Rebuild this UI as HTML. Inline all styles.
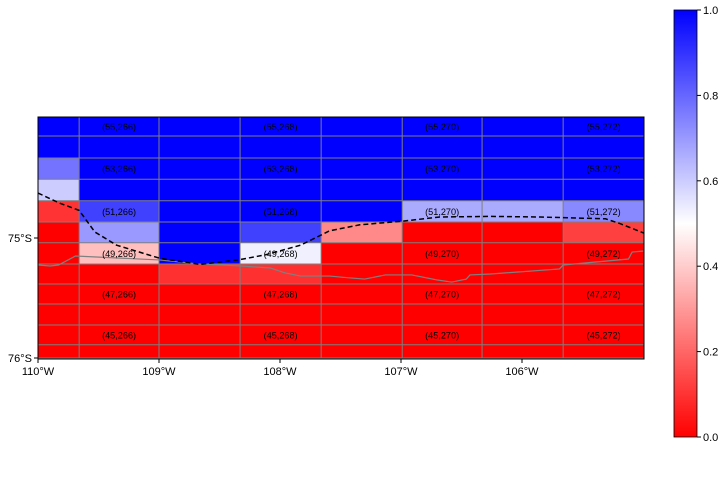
<!DOCTYPE html>
<html><head><meta charset="utf-8"><style>
html,body{margin:0;padding:0;background:#fff;}
svg{display:block;font-family:"Liberation Sans",sans-serif;}
</style></head><body>
<svg id="chart" width="726" height="478" viewBox="0 0 726 478" xmlns="http://www.w3.org/2000/svg">
<defs>
<linearGradient id="bwr" x1="0" y1="1" x2="0" y2="0">
<stop offset="0" stop-color="#ff0000"/><stop offset="0.5" stop-color="#ffffff"/><stop offset="1" stop-color="#0000ff"/>
</linearGradient>
<clipPath id="plotclip"><rect x="38" y="117" width="606" height="242"/></clipPath>
</defs>
<g id="cells" clip-path="url(#plotclip)"></g>
<g id="grid" clip-path="url(#plotclip)"></g>
<g id="lines" clip-path="url(#plotclip)"></g>
<g id="labels"></g>
<rect x="38" y="117" width="606" height="242" fill="none" stroke="#000" stroke-width="1"/>
<g id="axes"></g>
<rect x="674" y="10" width="23" height="427" fill="url(#bwr)" stroke="#000" stroke-width="0.8"/>
<g id="cbticks"></g>
</svg>
<script>
const lonEdges = [-110, -109.66, -109, -108.33, -107.66, -106.99, -106.33, -105.66, -104.99];
const latEdges = [-73.99, -74.15, -74.333, -74.51, -74.69, -74.867, -75.04, -75.217, -75.383, -75.55, -75.725, -75.89, -76.0];
const cellValues = [
 [1,1,1,1,1,1,1,1],
 [1,1,1,1,1,1,1,1],
 [0.775,1,1,1,1,1,1,1],
 [0.6,1,1,1,1,1,1,1],
 [0.1,0.875,1,1,1,0.667,0.667,0.733],
 [0,0.7,1,0.875,0.267,0,0,0.125],
 [0,0.375,1,0.53,0,0,0,0],
 [0,0,0.095,0.095,0,0,0,0],
 [0,0,0,0,0,0,0,0],
 [0,0,0,0,0,0,0,0],
 [0,0,0,0,0,0,0,0],
 [0,0,0,0,0,0,0,0]
];
const rowLabels = [55,53,51,49,47,45];
const colLabels = [266,268,270,272];
const labelRows = [0,2,4,6,8,10];
const labelCols = [1,3,5,7];
const dashLon = [-110,-109.82,-109.66,-109.53,-109.35,-108.99,-108.66,-108.33,-108.12,-107.83,-107.59,-107.34,-106.99,-106.68,-106.26,-105.85,-105.31,-105.19,-104.99];
const dashLat = [-74.625,-74.71,-74.77,-74.95,-75.06,-75.17,-75.22,-75.18,-75.14,-75.06,-74.94,-74.89,-74.86,-74.825,-74.82,-74.825,-74.84,-74.88,-74.96];
const coastLon = [-110,-109.9,-109.83,-109.69,-109,-108.66,-108.33,-108.08,-107.96,-107.83,-107.59,-107.42,-107.30,-107.13,-106.91,-106.70,-106.58,-106.46,-106.43,-106.26,-105.69,-105.66,-105.12,-105.09,-104.99];
const coastLat = [-75.225,-75.233,-75.225,-75.15,-75.183,-75.217,-75.233,-75.25,-75.29,-75.317,-75.317,-75.333,-75.342,-75.308,-75.308,-75.35,-75.367,-75.342,-75.308,-75.3,-75.258,-75.225,-75.175,-75.117,-75.108];
const xTicks = [-110,-109,-108,-107,-106];
const xTickLabels = ["110°W","109°W","108°W","107°W","106°W"];
const yTicks = [-75,-76];
const yTickLabels = ["75°S","76°S"];
const cbTicks = [0,0.2,0.4,0.6,0.8,1.0];
const cbTickLabels = ["0.0","0.2","0.4","0.6","0.8","1.0"];

const NS="http://www.w3.org/2000/svg";
const X = lon => 38 + (lon + 110) * 121;
const Y = lat => 238 - (lat + 75) * 120;
const CB = v => 437 - v * 427;
function color(v){
  let r,g,b;
  if(v<=0.5){r=255;g=b=Math.round(510*v);}else{b=255;r=g=Math.round(510*(1-v));}
  return `rgb(${r},${g},${b})`;
}
function mk(tag, attrs, parent){
  const e=document.createElementNS(NS,tag);
  for(const k in attrs) e.setAttribute(k,attrs[k]);
  parent.appendChild(e); return e;
}
const cells=document.getElementById('cells'), grid=document.getElementById('grid'), lines=document.getElementById('lines'), labels=document.getElementById('labels'), axes=document.getElementById('axes'), cbt=document.getElementById('cbticks');
cellValues.forEach((row,i)=>row.forEach((v,j)=>{
  const x0=X(lonEdges[j]), x1=X(lonEdges[j+1]), y0=Y(latEdges[i]), y1=Y(latEdges[i+1]);
  const r=mk('rect',{x:x0,y:y0,width:x1-x0,height:y1-y0,fill:color(v)},cells);
  
  
}));
lonEdges.forEach(l=>{
  const e=mk('line',{x1:X(l),x2:X(l),y1:117,y2:359,stroke:'#7f7f7f','stroke-width':1},grid);
  
  
});
latEdges.forEach(l=>{
  const e=mk('line',{x1:38,x2:644,y1:Y(l),y2:Y(l),stroke:'#7f7f7f','stroke-width':1},grid);
  
  
});
const coast=mk('polyline',{points:coastLon.map((l,i)=>X(l)+','+Y(coastLat[i])).join(' '),fill:'none',stroke:'#808080','stroke-width':1.2},lines);


const dash=mk('polyline',{points:dashLon.map((l,i)=>X(l)+','+Y(dashLat[i])).join(' '),fill:'none',stroke:'#000','stroke-width':1.5,'stroke-dasharray':'5,3'},lines);


labelRows.forEach((ri,a)=>labelCols.forEach((cj,b)=>{
  const cx=(X(lonEdges[cj])+X(lonEdges[cj+1]))/2, cy=(Y(latEdges[ri])+Y(latEdges[ri+1]))/2;
  const t=mk('text',{x:cx,y:cy+3.5,'text-anchor':'middle','font-size':9.5,textLength:34,lengthAdjust:'spacingAndGlyphs',fill:'#000'},labels);
  t.textContent=`(${rowLabels[a]},${colLabels[b]})`;
  
  
}));
xTicks.forEach((l,i)=>{
  const e=mk('line',{x1:X(l),x2:X(l),y1:359,y2:363,stroke:'#000'},axes);
  
  
  const t=mk('text',{x:X(l),y:375,'text-anchor':'middle','font-size':11,fill:'#000'},axes);
  t.textContent=xTickLabels[i];
  
  
});
yTicks.forEach((l,i)=>{
  const e=mk('line',{x1:34,x2:38,y1:Y(l),y2:Y(l),stroke:'#000'},axes);
  
  
  const t=mk('text',{x:32,y:Y(l)+4,'text-anchor':'end','font-size':11,fill:'#000'},axes);
  t.textContent=yTickLabels[i];
  
  
});
cbTicks.forEach((v,i)=>{
  const e=mk('line',{x1:697,x2:701,y1:CB(v),y2:CB(v),stroke:'#000'},cbt);
  
  
  const t=mk('text',{x:703,y:CB(v)+4,'font-size':11,fill:'#000'},cbt);
  t.textContent=cbTickLabels[i];
  
  
});
</script>
</body></html>
